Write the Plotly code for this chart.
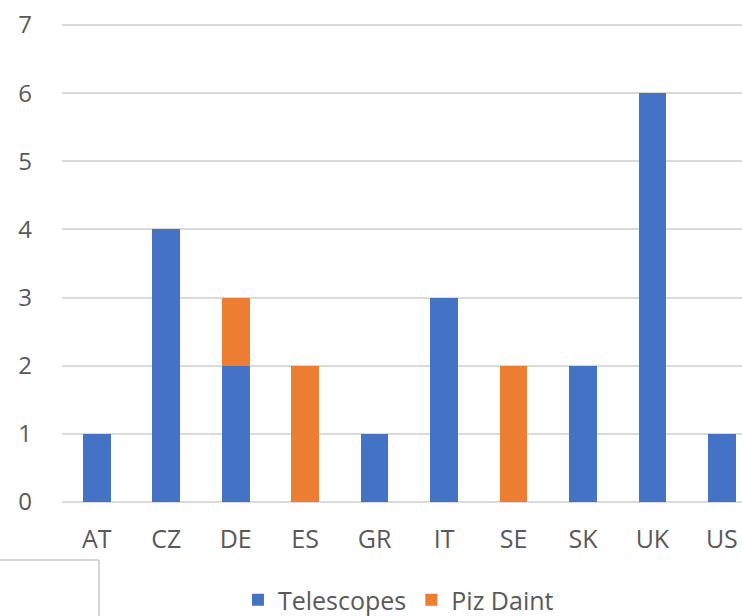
import plotly.graph_objects as go

categories = ["AT", "CZ", "DE", "ES", "GR", "IT", "SE", "SK", "UK", "US"]
telescopes = [1, 4, 2, 0, 1, 3, 0, 2, 6, 1]
piz_daint = [0, 0, 1, 2, 0, 0, 2, 0, 0, 0]
y_ticks = [0, 1, 2, 3, 4, 5, 6, 7]

fig = go.Figure()
fig.add_trace(go.Bar(x=categories, y=telescopes, name="Telescopes",
                     marker=dict(color="#4472C4", line=dict(width=0)), width=0.4))
fig.add_trace(go.Bar(x=categories, y=piz_daint, name="Piz Daint",
                     marker=dict(color="#ED7D31", line=dict(width=0)), width=0.4))

font_family = "Open Sans, Noto Sans, sans-serif"
fig.update_layout(
    barmode="stack",
    width=742, height=616,
    margin=dict(l=62, r=0, t=23, b=114, autoexpand=False),
    paper_bgcolor="white", plot_bgcolor="white",
    font=dict(family=font_family, color="#595959", size=24),
    showlegend=True,
    legend=dict(orientation="h", xref="container", x=0.537, xanchor="center",
                yref="container", y=16/616, yanchor="middle",
                font=dict(size=25, color="#595959"), traceorder="normal",
                itemwidth=30),
    xaxis=dict(range=[-0.5, 9.29], showgrid=False, showline=False, ticks="",
               tickfont=dict(size=25, color="#595959"), ticklabelstandoff=20),
    yaxis=dict(range=[0, 7.03], tickvals=y_ticks, showgrid=True, gridcolor="#d9d9d9",
               gridwidth=1.5, zeroline=True, zerolinecolor="#d9d9d9", zerolinewidth=1.5,
               showline=False, ticks="", tickfont=dict(size=24, color="#595959"),
               ticklabelstandoff=29),
    shapes=[
        dict(type="line", xref="paper", yref="paper", x0=-62/680, x1=37/680,
             y0=-58/479, y1=-58/479, line=dict(color="#c8c8c8", width=1.5)),
        dict(type="line", xref="paper", yref="paper", x0=37/680, x1=37/680,
             y0=-58/479, y1=-120/479, line=dict(color="#c8c8c8", width=1.5)),
    ],
)

fig.write_html("out.html", config={"displayModeBar": False},
               post_script="document.body.style.margin='0';document.body.style.overflow='hidden';")
